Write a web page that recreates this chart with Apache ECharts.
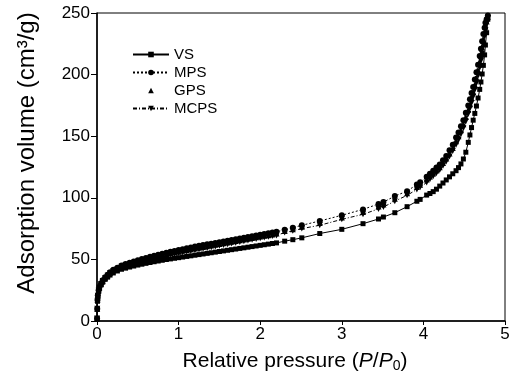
<!DOCTYPE html>
<html>
<head>
<meta charset="utf-8">
<script src="https://cdn.jsdelivr.net/npm/echarts@6/dist/echarts.min.js"></script>
<style>html,body{margin:0;padding:0;background:#fff}#c{width:513px;height:378px}</style>
</head>
<body>
<div id="c"></div>
<script>
// Relative pressure values (shared x for all series)
var pressure = [
  0.001, 0.003, 0.006, 0.01, 0.02, 0.03, 0.05, 0.07, 0.1, 0.13, 0.16, 0.2, 0.25,
  0.30, 0.35, 0.40, 0.45, 0.50, 0.55, 0.60, 0.65, 0.70, 0.75, 0.80, 0.85, 0.90, 0.95,
  1.00, 1.05, 1.10, 1.15, 1.20, 1.25, 1.30, 1.35, 1.40, 1.45, 1.50, 1.55, 1.60, 1.65,
  1.70, 1.75, 1.80, 1.85, 1.90, 1.95, 2.00, 2.05, 2.10, 2.15, 2.20,
  2.30, 2.40, 2.51, 2.73, 3.00, 3.26, 3.45, 3.51, 3.65, 3.80, 3.92, 3.96,
  4.04, 4.08, 4.12, 4.16, 4.20, 4.24, 4.28, 4.32, 4.36, 4.40, 4.43, 4.46, 4.49, 4.52,
  4.55, 4.57, 4.59, 4.61, 4.63, 4.65, 4.67, 4.69, 4.705, 4.72, 4.735, 4.75, 4.76, 4.775, 4.79
];
var VS = [
  2, 9.5, 16, 20, 24, 26.5, 29.3, 31.5, 33.8, 35.6, 37.3, 39.0, 40.6,
  42.0, 42.9, 43.8, 44.6, 45.4, 46.1, 46.8, 47.5, 48.1, 48.7, 49.3, 49.9, 50.4, 50.9,
  51.4, 51.9, 52.4, 52.9, 53.4, 53.9, 54.4, 54.9, 55.4, 55.9, 56.4, 56.9, 57.4, 57.9,
  58.4, 58.9, 59.4, 59.9, 60.4, 60.9, 61.4, 61.9, 62.4, 62.9, 63.4,
  64.8, 66.0, 67.5, 71.0, 74.4, 79.0, 82.8, 84.4, 87.9, 92.8, 97.2, 98.7,
  102.2, 103.5, 105.0, 107.0, 109.5, 112.0, 114.5, 117.0, 119.5, 122.0, 124.5, 127.5, 131.5, 137.0,
  145.0, 151.0, 157.0, 163.0, 168.5, 174.5, 181.0, 188.0, 194.0, 200.5, 207.5, 216.0, 224.0, 234.0, 245.0
];
var MPS = [
  2, 10, 17, 21, 25, 27.5, 30.5, 33, 35.5, 37.5, 39.5, 41.5, 43.3,
  45.0, 46.2, 47.3, 48.3, 49.3, 50.3, 51.2, 52.1, 53.0, 53.8, 54.6, 55.4, 56.2, 56.9,
  57.6, 58.3, 59.0, 59.7, 60.4, 61.0, 61.6, 62.2, 62.8, 63.4, 64.0, 64.6, 65.2, 65.8,
  66.4, 67.0, 67.6, 68.2, 68.8, 69.4, 70.0, 70.6, 71.2, 71.8, 72.4,
  74.0, 75.7, 77.7, 81.2, 85.8, 90.6, 95.0, 96.5, 101.4, 105.4, 110.8, 112.7,
  117.0, 119.5, 122.0, 124.5, 127.0, 130.5, 134.0, 138.5, 143.0, 149.0, 153.0, 158.0, 163.0, 169.0,
  175.0, 180.0, 185.0, 190.0, 196.0, 202.0, 208.0, 215.0, 221.0, 227.0, 233.0, 238.0, 242.0, 245.0, 248.0
];
var GPS = [
  2, 10, 17, 21, 25, 27.3, 30.3, 32.7, 35.2, 37.2, 39.1, 41.1, 42.8,
  44.5, 45.6, 46.6, 47.6, 48.5, 49.5, 50.3, 51.2, 52.0, 52.8, 53.5, 54.3, 55.0, 55.7,
  56.3, 57.0, 57.6, 58.3, 58.9, 59.5, 60.1, 60.7, 61.3, 61.9, 62.5, 63.1, 63.7, 64.3,
  64.9, 65.5, 66.1, 66.7, 67.3, 67.9, 68.5, 69.1, 69.7, 70.3, 71.0,
  73.0, 74.5, 76.5, 79.5, 84.0, 88.5, 93.0, 94.5, 99.3, 103.7, 108.8, 110.6,
  114.8, 117.2, 119.8, 122.2, 124.8, 128.2, 131.8, 136.0, 140.5, 146.0, 150.0, 154.8, 159.8, 165.5,
  171.5, 176.0, 181.0, 186.0, 191.8, 197.5, 203.5, 210.0, 216.0, 222.0, 228.5, 234.5, 239.0, 243.0, 247.0
];
var MCPS = [
  2, 10, 16.5, 20.5, 24.5, 27, 30, 32.4, 34.8, 36.8, 38.7, 40.6, 42.3,
  44.0, 45.0, 46.0, 46.9, 47.8, 48.7, 49.5, 50.3, 51.1, 51.8, 52.5, 53.2, 53.9, 54.5,
  55.1, 55.7, 56.3, 56.9, 57.5, 58.1, 58.7, 59.3, 59.9, 60.5, 61.1, 61.7, 62.3, 62.9,
  63.5, 64.1, 64.7, 65.3, 65.9, 66.5, 67.1, 67.7, 68.3, 68.9, 69.5,
  71.8, 73.2, 75.0, 77.7, 82.5, 86.6, 91.0, 92.5, 97.3, 102.0, 106.8, 108.5,
  112.5, 115.0, 117.5, 120.0, 122.5, 126.0, 129.5, 133.5, 138.0, 143.0, 147.0, 151.5, 156.5, 162.0,
  168.0, 172.5, 177.0, 182.0, 187.5, 193.0, 199.0, 205.5, 211.0, 217.0, 224.0, 231.0, 236.0, 241.0, 246.0
];
var xTicks = [0, 1, 2, 3, 4, 5];
var yTicks = [0, 50, 100, 150, 200, 250];

function pairs(ys) { return pressure.map(function (x, i) { return [x, ys[i]]; }); }

var FONT = '"Liberation Sans", Arial, sans-serif';
var chart = echarts.init(document.getElementById('c'), null, { renderer: 'canvas' });
chart.setOption({
  animation: false,
  backgroundColor: '#fff',
  grid: { left: 97, right: 8, top: 13, bottom: 56, show: true, borderColor: '#000', borderWidth: 1, backgroundColor: 'transparent' },
  legend: {
    orient: 'vertical', left: 132, top: 47, padding: 0, itemWidth: 36, itemHeight: 7, itemGap: 3,
    textStyle: { fontFamily: FONT, fontSize: 15, color: '#000' },
    data: ['VS', 'MPS', 'GPS', 'MCPS']
  },
  xAxis: {
    type: 'value', min: 0, max: 5, interval: 1,
    axisLine: { lineStyle: { color: '#000', width: 1.5 } },
    axisTick: { show: true, inside: false, length: 4, lineStyle: { color: '#000' } },
    splitLine: { show: false },
    axisLabel: { fontFamily: FONT, fontSize: 17, color: '#000', margin: 5,
      formatter: function (v) { return xTicks.indexOf(v) >= 0 ? String(v) : ''; } },
    name: '{n|Relative pressure (}{i|P}{n|/}{i|P}{s|0}{n|)}',
    nameLocation: 'middle', nameGap: 29,
    nameTextStyle: { padding: [0, 12, 0, 0], rich: {
      n: { fontFamily: FONT, fontSize: 21, color: '#000' },
      i: { fontFamily: FONT, fontSize: 21, color: '#000', fontStyle: 'italic' },
      s: { fontFamily: FONT, fontSize: 14, color: '#000', padding: [9, 0, 0, 0] }
    } }
  },
  yAxis: {
    type: 'value', min: 0, max: 250, interval: 50,
    axisLine: { show: true, lineStyle: { color: '#000', width: 1.5 } },
    axisTick: { show: true, inside: false, length: 6, lineStyle: { color: '#000' } },
    splitLine: { show: false },
    axisLabel: { fontFamily: FONT, fontSize: 17, color: '#000', margin: 7,
      formatter: function (v) { return yTicks.indexOf(v) >= 0 ? String(v) : ''; } },
    name: 'Adsorption volume (cm\u00B3/g)',
    nameLocation: 'middle', nameGap: 58, nameRotate: 90,
    nameTextStyle: { fontFamily: FONT, fontSize: 24, color: '#000', padding: [0, 0, 0, 28] }
  },
  series: [
    { name: 'VS', type: 'line', data: pairs(VS), symbol: 'rect', symbolSize: 5, showAllSymbol: true,
      itemStyle: { color: '#000' }, lineStyle: { color: '#000', width: 1, type: 'solid' } },
    { name: 'MPS', type: 'line', data: pairs(MPS), symbol: 'circle', symbolSize: 6, showAllSymbol: true,
      itemStyle: { color: '#000' }, lineStyle: { color: '#000', width: 1, type: [2, 2] } },
    { name: 'GPS', type: 'line', data: pairs(GPS), symbol: 'triangle', symbolSize: 6, showAllSymbol: true,
      itemStyle: { color: '#000' }, lineStyle: { color: '#000', width: 0, opacity: 0 } },
    { name: 'MCPS', type: 'line', data: pairs(MCPS), symbol: 'triangle', symbolRotate: 180, symbolSize: 6, showAllSymbol: true,
      itemStyle: { color: '#000' }, lineStyle: { color: '#000', width: 1, type: [4, 2, 1, 2] } }
  ]
});
</script>
</body>
</html>
